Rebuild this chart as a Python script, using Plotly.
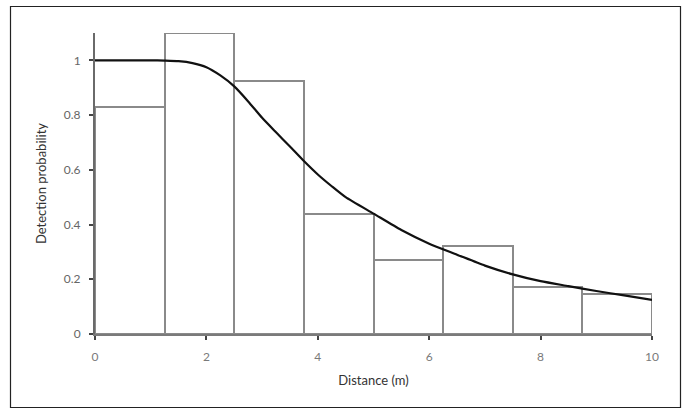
import plotly.graph_objects as go

# Histogram bins (distance, m) and observed detection proportions
bin_edges = [0, 1.25, 2.5, 3.75, 5.0, 6.25, 7.5, 8.75, 10.0]
bar_heights = [0.83, 1.10, 0.925, 0.44, 0.27, 0.32, 0.172, 0.147]

# Fitted detection function
curve_x = [0, 0.5, 1.0, 1.25, 1.5, 1.75, 2.0, 2.25, 2.5, 2.75, 3.0, 3.25, 3.5,
           3.75, 4.0, 4.25, 4.5, 5.0, 5.5, 6.0, 6.5, 7.0, 7.5, 8.0, 8.5, 9.0, 9.5, 10.0]
curve_y = [1.0, 1.0, 1.0, 0.999, 0.997, 0.99, 0.975, 0.945, 0.905, 0.85, 0.79,
           0.737, 0.685, 0.632, 0.583, 0.54, 0.50, 0.44, 0.38, 0.33, 0.29, 0.25,
           0.218, 0.193, 0.175, 0.157, 0.141, 0.125]

x_ticks = [0, 2, 4, 6, 8, 10]
y_ticks = [0, 0.2, 0.4, 0.6, 0.8, 1]
y_tick_labels = ["0", "0.2", "0.4", "0.6", "0.8", "1"]

centers = [(a + b) / 2 for a, b in zip(bin_edges[:-1], bin_edges[1:])]
widths = [b - a for a, b in zip(bin_edges[:-1], bin_edges[1:])]

fig = go.Figure()
fig.add_trace(go.Bar(
    x=centers, y=bar_heights, width=widths,
    marker=dict(color="white", line=dict(color="#8a8a8a", width=2)),
    hoverinfo="skip", showlegend=False,
))
fig.add_trace(go.Scatter(
    x=curve_x, y=curve_y, mode="lines",
    line=dict(color="#111111", width=2.2, shape="spline", smoothing=0.6),
    showlegend=False,
))

W, H = 684, 408
l, r, t, b = 95, 32, 33, 74
pw, ph = W - l - r, H - t - b

def px2paper_x(px):
    return (px - l) / pw

def py2paper_y(py):
    return (H - b - py) / ph

fig.add_shape(type="rect", xref="paper", yref="paper",
              x0=px2paper_x(10.5), x1=px2paper_x(680.5),
              y0=py2paper_y(407.5), y1=py2paper_y(6.5),
              line=dict(color="#222222", width=1.2), fillcolor="rgba(0,0,0,0)", layer="below")

font_family = "Lato, 'Open Sans', sans-serif"
fig.update_layout(
    width=W, height=H,
    margin=dict(l=l, r=r, t=t, b=b, autoexpand=False),
    paper_bgcolor="white", plot_bgcolor="white",
    bargap=0,
    font=dict(family=font_family, color="#444444", size=12),
    xaxis=dict(
        range=[0, 10], tickvals=x_ticks, ticktext=[str(v) for v in x_ticks],
        showgrid=False, zeroline=False, showline=True, linecolor="#7a7a7a", linewidth=2,
        ticks="outside", ticklen=4, tickwidth=2, tickcolor="#444444",
        tickfont=dict(color="#7a7a7a", size=12), ticklabelstandoff=7,
        title=dict(text="Distance (m)", font=dict(size=13, color="#333333"), standoff=12),
    ),
    yaxis=dict(
        range=[0, 1.1], tickvals=y_ticks, ticktext=y_tick_labels,
        showgrid=False, zeroline=False, showline=True, linecolor="#6a6a6a", linewidth=2,
        ticks="outside", ticklen=4, tickwidth=2, tickcolor="#444444",
        tickfont=dict(color="#666666", size=12), ticklabelstandoff=6,
        title=dict(text="Detection probability", font=dict(size=13, color="#333333"), standoff=14),
    ),
)

fig.write_html("out.html", config={"displayModeBar": False},
               post_script="document.body.style.margin='0';document.body.style.padding='0';")
